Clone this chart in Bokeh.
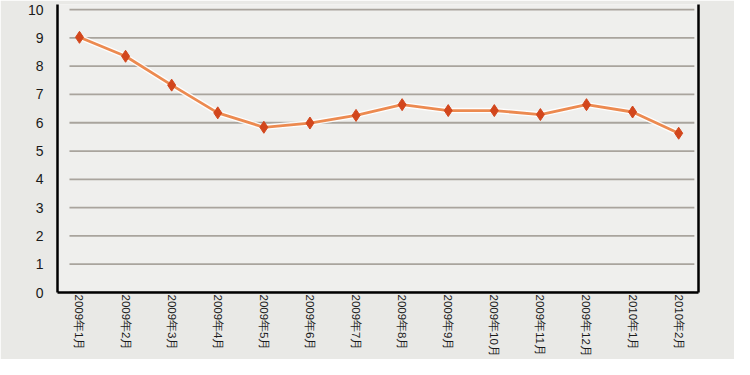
import math
from bokeh.plotting import figure
from bokeh.models import Range1d, LinearAxis, FixedTicker
from bokeh.embed import file_html
from bokeh.resources import INLINE

categories = ["2009年1月", "2009年2月", "2009年3月", "2009年4月", "2009年5月",
              "2009年6月", "2009年7月", "2009年8月", "2009年9月", "2009年10月",
              "2009年11月", "2009年12月", "2010年1月", "2010年2月"]
values = [9.02, 8.35, 7.33, 6.35, 5.84, 5.99, 6.26, 6.64, 6.43, 6.43, 6.29, 6.64, 6.38, 5.63]
y_ticks = list(range(0, 11))

xs = list(range(len(categories)))

p = figure(width=734, height=359, output_backend="svg", toolbar_location=None,
           x_range=Range1d(-0.477, 13.43), y_range=Range1d(0, 10.18),
           min_border_left=57, min_border_right=36, min_border_top=4, min_border_bottom=60,
           background_fill_color="#efefed", border_fill_color="#e9e9e6")
p.outline_line_color = None
p.xgrid.visible = False
p.ygrid.visible = False

# x axis with vertical category labels
p.xaxis.ticker = FixedTicker(ticks=xs)
p.xaxis.major_label_overrides = {i: c for i, c in zip(xs, categories)}
p.xaxis.major_label_orientation = -math.pi / 2
p.xaxis.major_label_standoff = 2
p.xaxis.major_label_text_font_size = "11.5px"
p.xaxis.major_label_text_font = "Liberation Sans"
p.xaxis.major_label_text_color = "#1a1a1a"
p.xaxis.major_tick_line_color = None
p.xaxis.minor_tick_line_color = None
p.xaxis.major_tick_out = 0
p.xaxis.major_tick_in = 0
p.xaxis.axis_line_color = "black"
p.xaxis.axis_line_width = 2.5

# y axis
p.yaxis.ticker = FixedTicker(ticks=y_ticks)
p.yaxis.major_tick_line_color = None
p.yaxis.minor_tick_line_color = None
p.yaxis.axis_line_color = "black"
p.yaxis.axis_line_width = 2.5
p.yaxis.major_label_standoff = 8
p.yaxis.major_label_text_font_size = "14px"
p.yaxis.major_label_text_font = "Liberation Sans"
p.yaxis.major_label_text_color = "#1a1a1a"

right = LinearAxis(ticker=FixedTicker(ticks=[]), major_tick_line_color=None,
                   minor_tick_line_color=None, axis_line_color="black", axis_line_width=2.5)
p.add_layout(right, "right")

# horizontal grid lines (inset from frame)
gx0 = [-0.217] * len(y_ticks)
gx1 = [13.34] * len(y_ticks)
p.segment(x0=gx0, x1=gx1, y0=y_ticks, y1=y_ticks, line_color="#a9a49d", line_width=1.8)

# series
p.line(xs, values, line_color="white", line_width=5.5, line_alpha=0.9)
p.line(xs, values, line_color="#ec8a50", line_width=2.8)
p.scatter(xs, values, marker="diamond", size=12, fill_color="#d2461c",
          line_color="#d2461c", line_width=1)

open("out.html", "w").write(file_html(p, INLINE))
